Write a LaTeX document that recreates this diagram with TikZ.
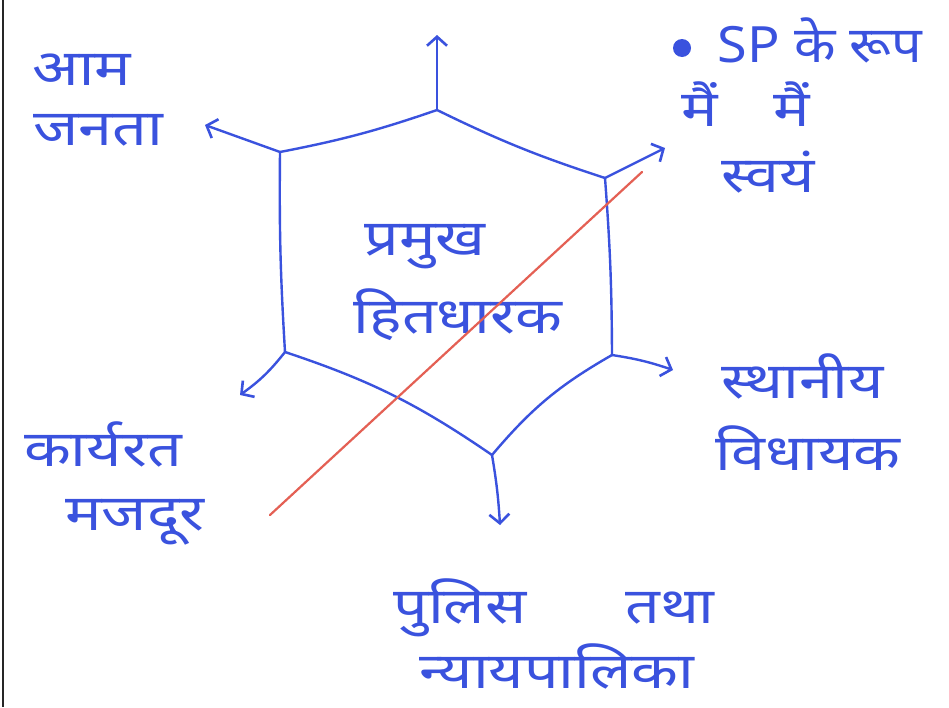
\documentclass[tikz,border=0pt]{standalone}
\usepackage{fontspec}
\newfontfamily\dev[Script=Devanagari]{Noto Sans}
\usetikzlibrary{arrows.meta}
\definecolor{ink}{RGB}{58,82,222}
\definecolor{redink}{RGB}{228,96,84}
\newcommand{\hw}[1]{\scalebox{1.22}[1]{#1}}
\tikzset{
  pen/.style={draw=ink, line width=2.4pt, line cap=round, line join=round},
  arr/.style={pen, -{Straight Barb[length=9pt,width=20pt,line width=2.6pt]}},
  lbl/.style={text=ink, font=\dev\fontsize{50}{54}\selectfont, inner sep=0pt, anchor=base},
}
\begin{document}
\begin{tikzpicture}[x=1pt,y=-1pt]
\useasboundingbox (0,0) rectangle (949,707);
\fill[white] (0,0) rectangle (949,707);
\draw[black!85, line width=2pt] (3,0) -- (3,707);

% hexagon vertices
\coordinate (T) at (437,110);
\coordinate (UR) at (605,178);
\coordinate (LR) at (612,355);
\coordinate (B) at (492,455);
\coordinate (LL) at (285,352);
\coordinate (UL) at (280,152);

\draw[pen] (T) to[bend left=4] (UL);
\draw[pen] (UL) to[bend right=2] (LL);
\draw[pen] (LL) to[bend left=8] (B);
\draw[pen] (B) to[bend left=10] (LR);
\draw[pen] (LR) to[bend right=2] (UR);
\draw[pen] (UR) to[bend left=4] (T);

% arrow ends
\coordinate (eT) at (437,35);
\coordinate (eUR) at (665,148);
\coordinate (eLR) at (673,370);
\coordinate (eB) at (500,525);
\coordinate (eLL) at (240,395);
\coordinate (eUL) at (205,125);

\draw[arr] (T) -- (eT);
\draw[arr] (UR) -- (eUR);
\draw[arr] (LR) to[bend left=5] (eLR);
\draw[arr] (B) to[bend left=3] (eB);
\draw[arr] (LL) to[bend left=8] (eLL);
\draw[arr] (UL) -- (eUL);

% labels
\node[lbl] (center1) at (425,255) {\hw{प्रमुख}};
\node[lbl] (center2) at (458,333) {\hw{हितधारक}};
\node[lbl] (aam) at (82,85) {\hw{आम}};
\node[lbl] (janta) at (98,145) {\hw{जनता}};
\fill[ink] (682,48) circle (9pt);
\node[lbl] (sp) at (820,62) {\scalebox{1.08}[1]{SP के रूप}};
\node[lbl] (mai1) at (700,126) {\hw{मैं}};
\node[lbl] (mai2) at (792,126) {\hw{मैं}};
\node[lbl] (svayam) at (768,192) {\hw{स्वयं}};
\node[lbl] (sthaniya) at (803,398) {\hw{स्थानीय}};
\node[lbl] (vidhayak) at (808,470) {\hw{विधायक}};
\node[lbl] (karyarat) at (103,466) {\hw{कार्यरत}};
\node[lbl] (majdoor) at (135,530) {\hw{मजदूर}};
\node[lbl] (police) at (460,623) {\hw{पुलिस}};
\node[lbl] (tatha) at (670,623) {\hw{तथा}};
\node[lbl] (nyay) at (557,688) {\hw{न्यायपालिका}};

% red strike line
\coordinate (r1) at (270,515);
\coordinate (r2) at (642,172);
\draw[redink, line width=2.2pt, line cap=round] (r1) -- (r2);
\end{tikzpicture}
\end{document}
